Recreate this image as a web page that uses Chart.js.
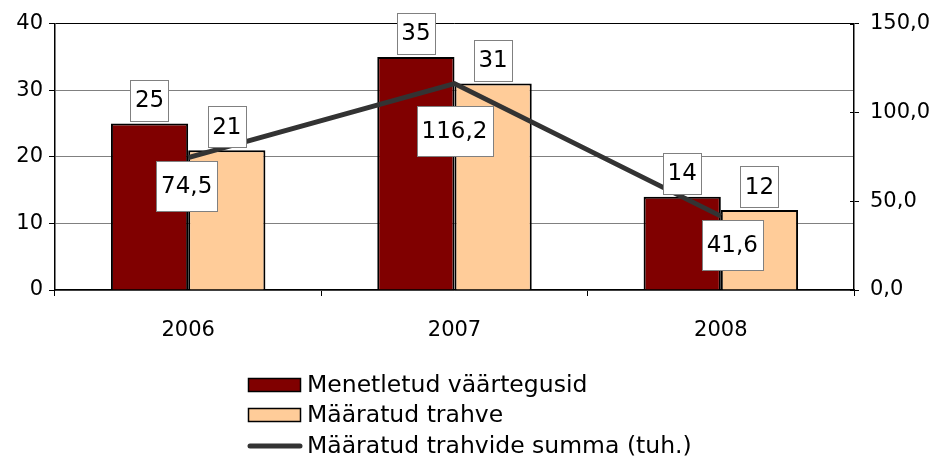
<!DOCTYPE html>
<html>
<head>
<meta charset="utf-8">
<script src="https://cdn.jsdelivr.net/npm/chart.js@4.4.1/dist/chart.umd.min.js"></script>
<style>
  html, body { margin: 0; padding: 0; background: #fff; }
  #wrap { width: 931px; height: 467px; position: relative; }
</style>
</head>
<body>
<div id="wrap"><canvas id="chart"></canvas></div>
<script>
// andmed
const aastad = ["2006", "2007", "2008"]
const menetletud = [25, 35, 14]
const maaratud = [21, 31, 12]
const summa = [74.5, 116.2, 41.6]

const vasakMax = 40
const vasakSamm = 10
const paremMax = 150
const paremSamm = 50

const FONT = '"DejaVu Sans", Verdana, sans-serif'
const komaga = (v) => v.toFixed(1).replace(".", ",")

// kastiga andmesildid
const sildid = {
  id: "sildid",
  afterDatasetsDraw(chart, args, opts) {
    const ctx = chart.ctx
    ctx.save()
    ctx.font = "23px " + FONT
    ctx.textAlign = "center"
    ctx.textBaseline = "middle"

    const kast = (cx, top, w, h, text) => {
      const x = Math.round(cx - w / 2) + 0.5
      const y = Math.round(top) + 0.5
      ctx.fillStyle = "#fff"
      ctx.fillRect(x, y, Math.round(w), Math.round(h))
      ctx.strokeStyle = "#808080"
      ctx.lineWidth = 1
      ctx.strokeRect(x, y, Math.round(w), Math.round(h))
      ctx.fillStyle = "#000"
      ctx.fillText(text, cx, top + h / 2 + 1)
    }

    chart.data.datasets.forEach((ds, di) => {
      const meta = chart.getDatasetMeta(di)
      meta.data.forEach((el, i) => {
        if (ds.type === "line") {
          const text = komaga(ds.data[i])
          const w = ctx.measureText(text).width + 10
          const s = opts.joonNihe[i] || [0, 4]
          kast(el.x + s[0], el.y + s[1], w, 50, text)
        } else {
          const text = String(ds.data[i])
          const w = ctx.measureText(text).width + 9
          kast(el.x, el.y - 3 - 41, w, 41, text)
        }
      })
    })
    ctx.restore()
  },
}

// parema telje tikid ulatuvad ka sissepoole
const ristTikid = {
  id: "ristTikid",
  afterDraw(chart) {
    const s = chart.scales.y1
    const ctx = chart.ctx
    ctx.save()
    ctx.strokeStyle = "#000"
    ctx.lineWidth = 1
    s.ticks.forEach((t) => {
      const y = Math.round(s.getPixelForValue(t.value)) + 0.5
      ctx.beginPath()
      ctx.moveTo(s.left - 4, y)
      ctx.lineTo(s.left, y)
      ctx.stroke()
    })
    ctx.restore()
  },
}

// legend all, üks rida korraga
const legend = {
  id: "legendAll",
  afterDraw(chart) {
    const ctx = chart.ctx
    const read = [385, 415, 446]
    const jarjekord = [1, 2, 0]
    ctx.save()
    ctx.font = "23.5px " + FONT
    ctx.textBaseline = "middle"
    ctx.textAlign = "left"
    jarjekord.forEach((di, r) => {
      const ds = chart.data.datasets[di]
      const y = read[r]
      if (ds.type === "line") {
        ctx.strokeStyle = ds.borderColor
        ctx.lineWidth = 5
        ctx.lineCap = "round"
        ctx.beginPath()
        ctx.moveTo(250, y)
        ctx.lineTo(300, y)
        ctx.stroke()
      } else {
        ctx.fillStyle = ds.backgroundColor
        ctx.fillRect(248.5, y - 6.5, 52, 13)
        ctx.strokeStyle = "#000"
        ctx.lineWidth = 1.5
        ctx.strokeRect(248.5, y - 6.5, 52, 13)
      }
      ctx.fillStyle = "#000"
      ctx.fillText(ds.label, 307, y + 1)
    })
    ctx.restore()
  },
}

const ctx = document.getElementById("chart").getContext("2d")
new Chart(ctx, {
  data: {
    labels: aastad,
    datasets: [
      {
        type: "line",
        label: "Määratud trahvide summa (tuh.)",
        data: summa,
        yAxisID: "y1",
        borderColor: "#333333",
        borderWidth: 5,
        pointRadius: 0,
        tension: 0,
        order: 0,
      },
      {
        type: "bar",
        label: "Menetletud väärtegusid",
        data: menetletud,
        yAxisID: "y",
        backgroundColor: "#800000",
        borderColor: "#000",
        borderWidth: 2,
        barPercentage: 1,
        categoryPercentage: 0.58,
        order: 1,
      },
      {
        type: "bar",
        label: "Määratud trahve",
        data: maaratud,
        yAxisID: "y",
        backgroundColor: "#FFCC99",
        borderColor: "#000",
        borderWidth: 2,
        barPercentage: 1,
        categoryPercentage: 0.58,
        order: 1,
      },
    ],
  },
  options: {
    responsive: true,
    maintainAspectRatio: false,
    animation: false,
    layout: { padding: { top: 20, bottom: 120, left: 0, right: 0 } },
    plugins: {
      legend: { display: false },
      tooltip: { enabled: false },
      sildid: { joonNihe: [[-1.5, 3], [0, 22], [11.5, 4]] },
    },
    scales: {
      x: {
        type: "category",
        offset: true,
        grid: { offset: true, drawOnChartArea: false, color: "#000", tickLength: 6 },
        border: { color: "#000", width: 1.5 },
        ticks: { color: "#000", font: { family: FONT, size: 21 }, padding: 22 },
        afterFit: (s) => { s.height = 57 },
      },
      y: {
        position: "left",
        min: 0,
        max: vasakMax,
        ticks: { stepSize: vasakSamm, color: "#000", font: { family: FONT, size: 21 }, padding: 6 },
        grid: {
          color: (c) => (c.tick && c.tick.value === vasakMax ? "#000" : "#808080"),
          tickColor: "#000",
          tickLength: 6,
        },
        border: { color: "#000", width: 1.5 },
        afterFit: (s) => { s.width = 55 },
      },
      y1: {
        position: "right",
        min: 0,
        max: paremMax,
        ticks: {
          stepSize: paremSamm,
          color: "#000",
          font: { family: FONT, size: 21 },
          padding: 11,
          callback: (v) => komaga(v),
        },
        grid: { drawOnChartArea: false, color: "#000", tickLength: 5 },
        border: { color: "#000", width: 1.5 },
        afterFit: (s) => { s.width = 77 },
      },
    },
  },
  plugins: [sildid, ristTikid, legend],
})
</script>
</body>
</html>
